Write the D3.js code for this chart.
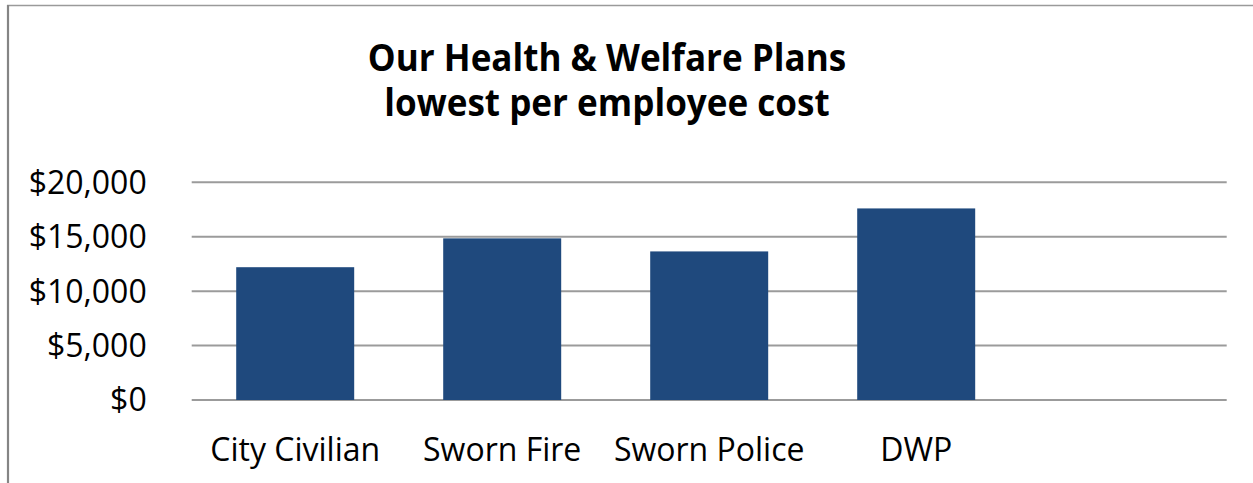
<!DOCTYPE html>
<html>
<head>
<meta charset="utf-8">
<script src="https://cdn.jsdelivr.net/npm/d3@7"></script>
<style>
  html, body { margin: 0; padding: 0; background: #ffffff; }
  svg { display: block; }
</style>
</head>
<body>
<svg id="chart" width="1253" height="483"></svg>
<script>
// Per-employee health & welfare cost by group
const categories = ["City Civilian", "Sworn Fire", "Sworn Police", "DWP", ""];
const costs = [12200, 14850, 13650, 17600, null];
const yTicks = [0, 5000, 10000, 15000, 20000];
const titleLines = ["Our Health & Welfare Plans", "lowest per employee cost"];

const width = 1253, height = 483;
const margin = { top: 182.3, right: 26.3, bottom: 83, left: 191.7 };
const innerW = width - margin.left - margin.right;
const innerH = height - margin.top - margin.bottom;

const svg = d3.select("#chart");

// Chart frame (top and left edges visible)
svg.append("line")
  .attr("x1", 7).attr("x2", width).attr("y1", 5.5).attr("y2", 5.5)
  .attr("stroke", "#9a9a9a").attr("stroke-width", 1.5);
svg.append("line")
  .attr("x1", 8).attr("x2", 8).attr("y1", 5).attr("y2", height)
  .attr("stroke", "#858585").attr("stroke-width", 2.2);

// Title, slightly condensed horizontally
svg.append("g")
  .attr("transform", "translate(607,0) scale(0.935,1)")
  .append("text")
  .attr("x", 0).attr("y", 71.5)
  .attr("text-anchor", "middle")
  .style("font-family", "'Open Sans', sans-serif")
  .style("font-weight", 700)
  .style("font-size", "37.5px")
  .attr("fill", "#000")
  .selectAll("tspan")
  .data(titleLines)
  .join("tspan")
  .attr("x", 0)
  .attr("dy", (d, i) => i === 0 ? 0 : 45)
  .text(d => d);

const g = svg.append("g").attr("transform", `translate(${margin.left},${margin.top})`);

const x = d3.scaleBand()
  .domain(categories.map((c, i) => i))
  .range([0, innerW])
  .paddingInner(0.43)
  .paddingOuter(0.215);

const y = d3.scaleLinear().domain([0, 20000]).range([innerH, 0]);

// Horizontal gridlines
g.append("g")
  .selectAll("line")
  .data(yTicks)
  .join("line")
  .attr("x1", 0).attr("x2", innerW)
  .attr("y1", d => y(d)).attr("y2", d => y(d))
  .attr("stroke", "#9b9b9b")
  .attr("stroke-width", 2);

// Y axis labels
const yAxis = d3.axisLeft(y)
  .tickValues(yTicks)
  .tickSize(0)
  .tickPadding(45)
  .tickFormat(d => "$" + d3.format(",")(d));
g.append("g")
  .call(yAxis)
  .call(s => s.select(".domain").remove())
  .selectAll("text")
  .style("font-family", "'Open Sans', sans-serif")
  .style("font-size", "32px")
  .attr("fill", "#000")
  .attr("dy", "0.34em");

// Bars
g.append("g")
  .selectAll("rect")
  .data(costs.map((v, i) => ({ i, v })).filter(d => d.v != null))
  .join("rect")
  .attr("x", d => x(d.i))
  .attr("width", x.bandwidth())
  .attr("y", d => y(d.v))
  .attr("height", d => y(0) - y(d.v))
  .attr("fill", "#1f497d");

// Category labels
const xAxis = d3.axisBottom(x)
  .tickSize(0)
  .tickPadding(38)
  .tickFormat(i => categories[i]);
g.append("g")
  .attr("transform", `translate(0,${innerH})`)
  .call(xAxis)
  .call(s => s.select(".domain").remove())
  .selectAll("text")
  .style("font-family", "'Open Sans', sans-serif")
  .style("font-size", "32px")
  .attr("fill", "#000")
  .attr("dy", "0.71em");
</script>
</body>
</html>
